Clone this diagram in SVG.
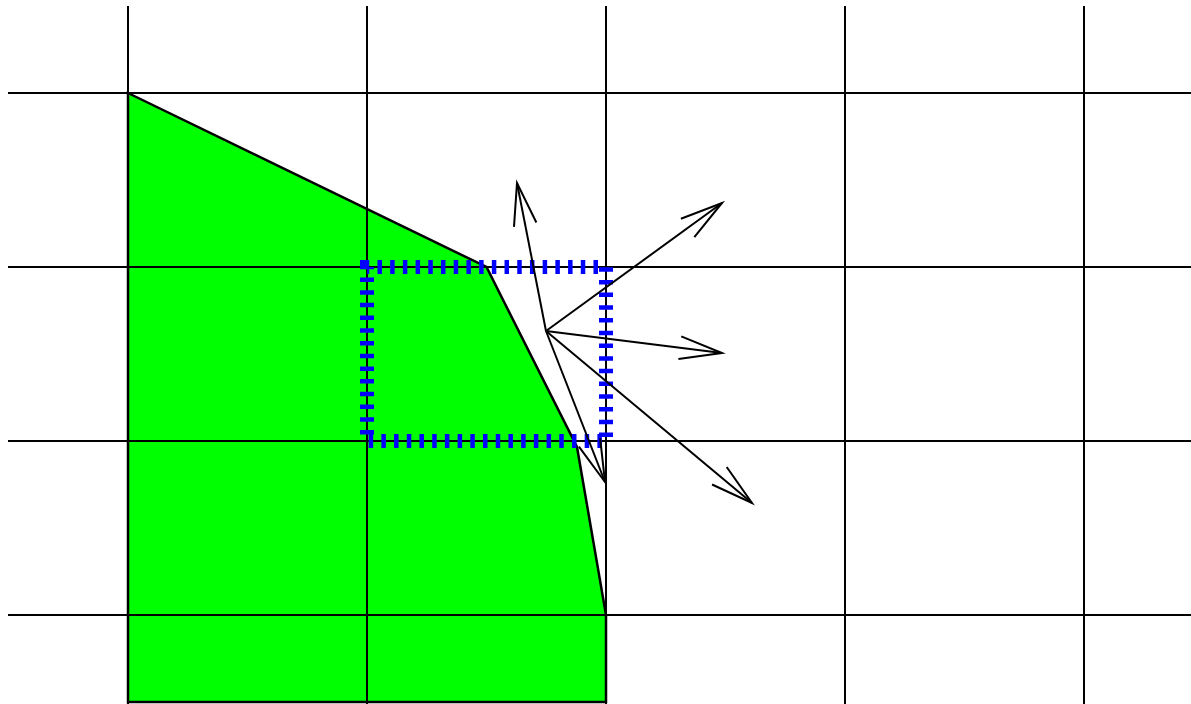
<svg xmlns="http://www.w3.org/2000/svg" width="1191" height="704" viewBox="0 0 1191 704">
<style>
.grid{stroke:#000;stroke-width:2;fill:none}
.poly{fill:#00ff00;stroke:#000;stroke-width:2.5}
.dash{fill:none;stroke:#0000ff;stroke-width:14;stroke-dasharray:4.5 8.2077;stroke-dashoffset:2.25}
.arrow{stroke:#000;stroke-width:2;fill:none;marker-end:url(#head)}
</style>
<defs>
<marker id="head" markerUnits="userSpaceOnUse" viewBox="-46 -14 50 28" refX="0" refY="0" markerWidth="50" markerHeight="28" orient="auto" overflow="visible">
<path d="M-42.5,-11.4 L0,0 L-42.5,11.4" fill="none" stroke="#000" stroke-width="2"/>
</marker>
</defs>
<g id="region">
<polygon class="poly" points="128,93 486.5,267 577,447 606,615 606,702 128,702"/>
</g>
<g id="grid">
<path class="grid" d="M128,6V704M367,6V704M606,6V704M845,6V704M1084,6V704M8,93H1191M8,267H1191M8,441H1191M8,615H1191"/>
</g>
<g id="cell">
<path class="dash" d="M367,267H606V441H367Z"/>
</g>
<g id="connectors">
<line class="arrow" x1="546" y1="331" x2="517" y2="183"/>
<line class="arrow" x1="546" y1="331" x2="722" y2="203"/>
<line class="arrow" x1="546" y1="331" x2="722" y2="353"/>
<line class="arrow" x1="546" y1="331" x2="752" y2="503"/>
<line class="arrow" x1="546" y1="331" x2="605" y2="482"/>
</g>
</svg>
